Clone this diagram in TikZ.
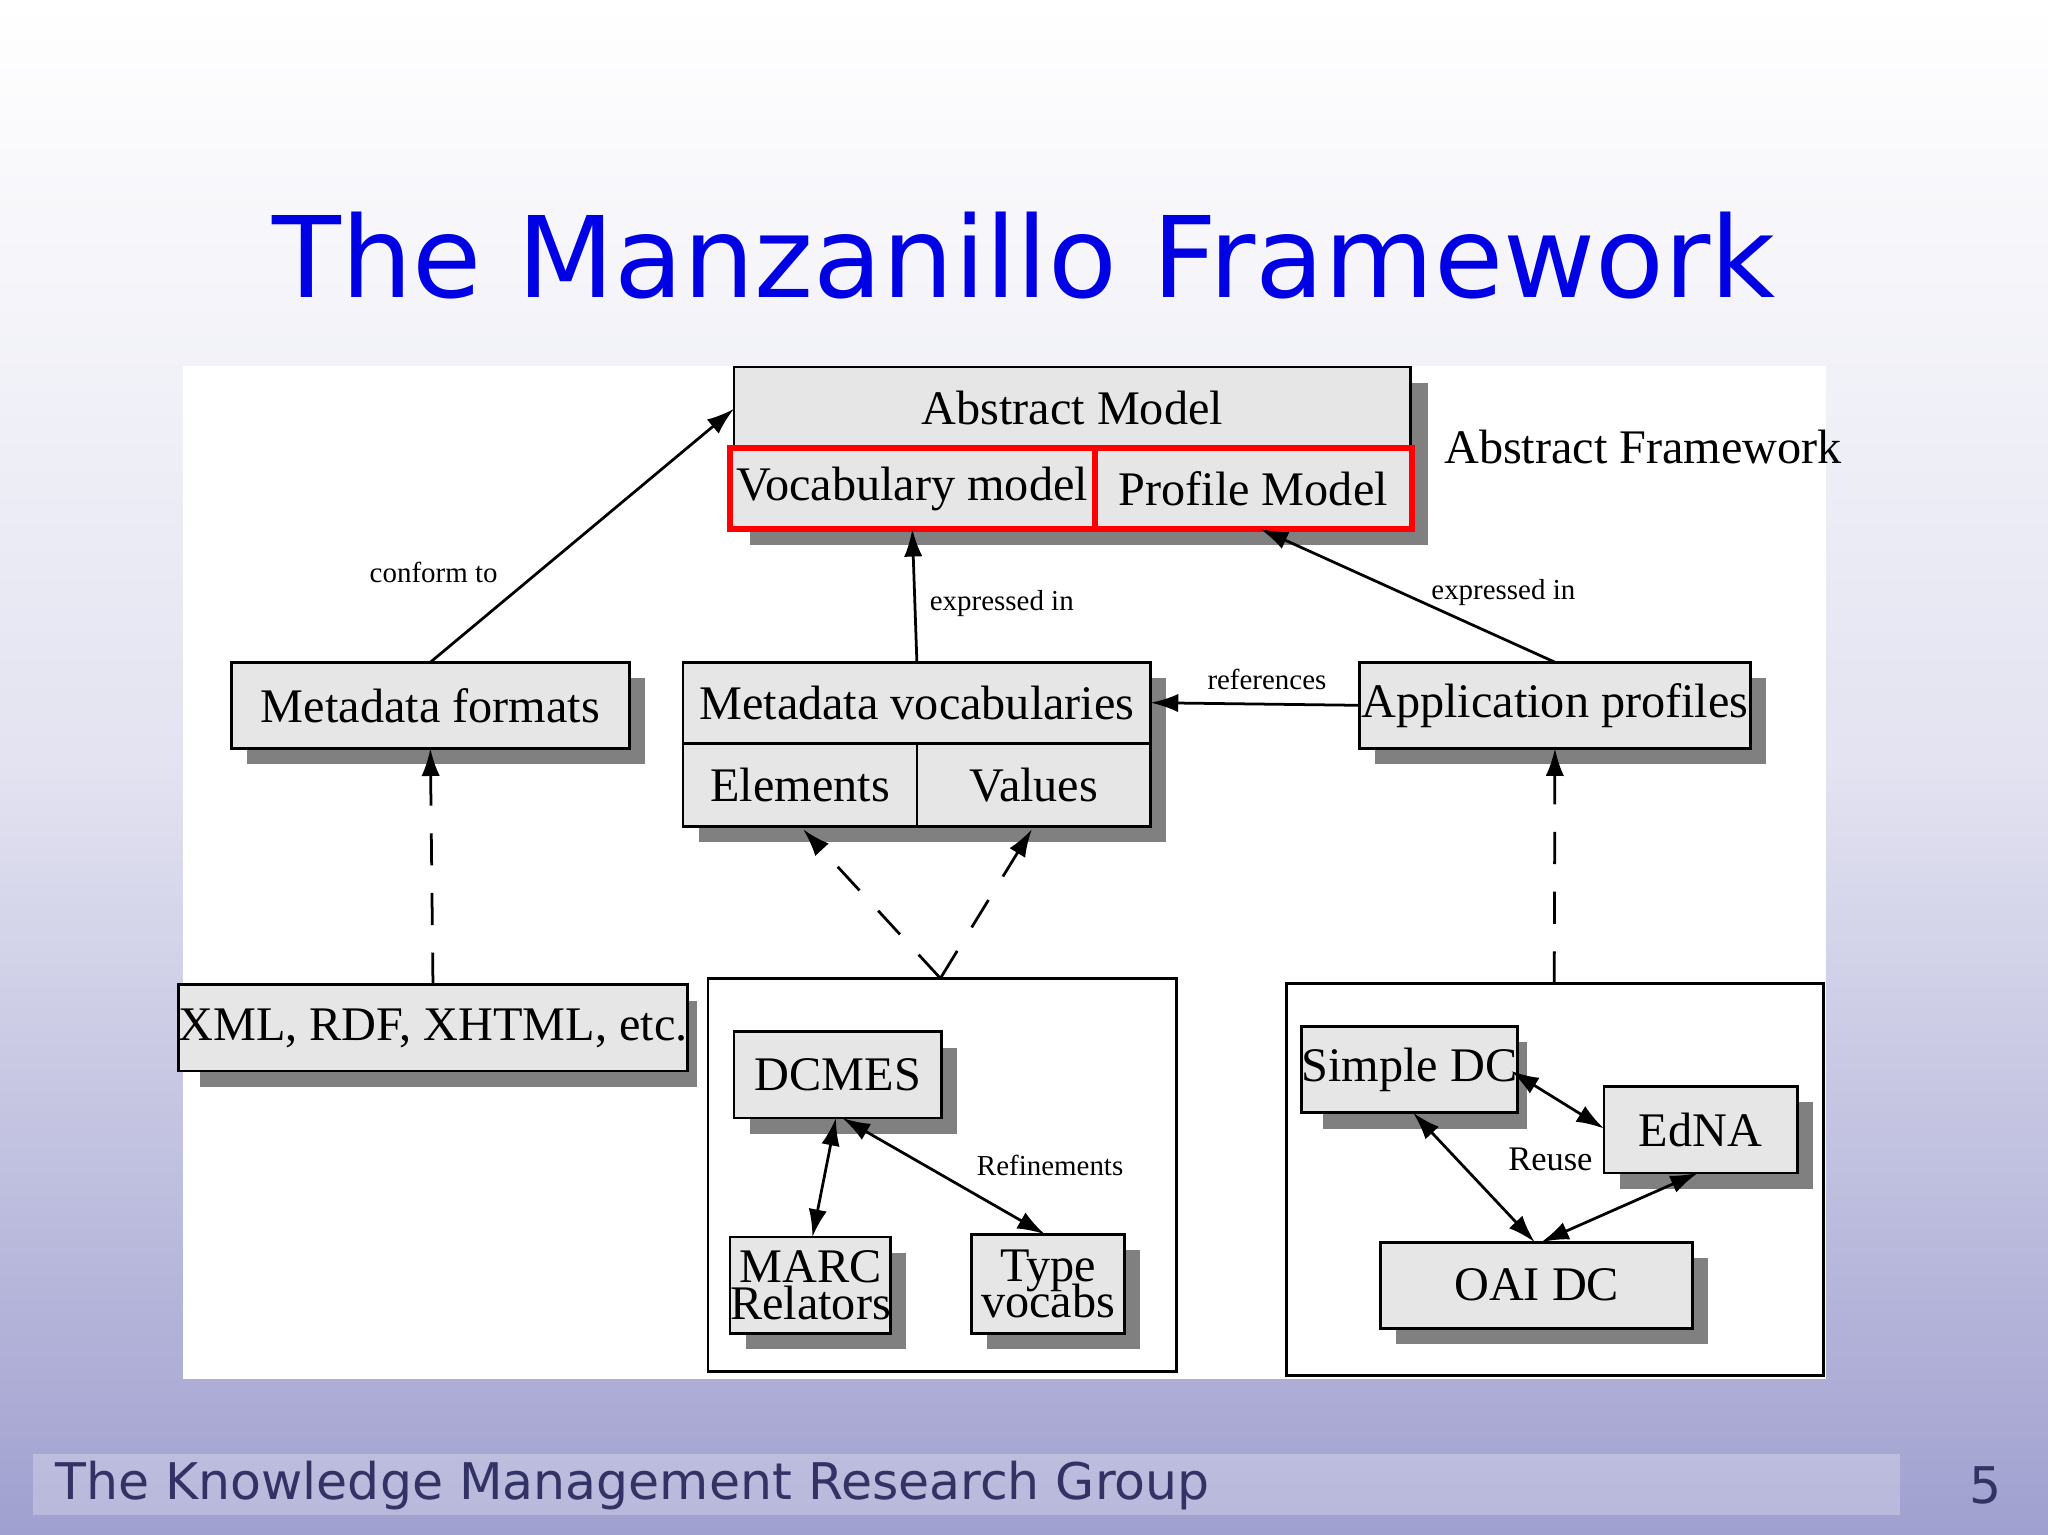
\documentclass[tikz,border=0pt]{standalone}
\usepackage{fontspec}
\setmainfont{Liberation Serif}
\newfontfamily\titlefont{DejaVu Sans}
\usetikzlibrary{arrows.meta}
\definecolor{shadowc}{RGB}{128,128,128}
\definecolor{boxfill}{RGB}{230,230,230}
\definecolor{bgbot}{RGB}{160,160,208}
\definecolor{footc}{RGB}{50,50,100}
\tikzset{
  boxn/.style={draw=black,fill=boxfill,line width=0.6pt,inner sep=0pt,outer sep=0pt,font=\fontsize{10.5}{11}\selectfont,align=center},
  redb/.style={draw=red,line width=1.3pt},
  lbl/.style={font=\fontsize{6.3}{7}\selectfont,inner sep=1pt},
  arr/.style={-{Latex[length=6pt,width=4pt]},line width=0.6pt},
  darr/.style={{Latex[length=6pt,width=4pt]}-{Latex[length=6pt,width=4pt]},line width=0.6pt},
  dasharr/.style={dash pattern=on 7pt off 6pt,-{Latex[length=6pt,width=4pt]},line width=0.6pt}
}
\newcommand\mybox[7][]{%
  \fill[shadowc] ({#3+12},{#4+12}) rectangle ({#5+12},{#6+12});
  \node[boxn,#1,minimum width={(#5-#3)*0.01cm},minimum height={(#6-#4)*0.01cm}] (#2) at ({(#3+#5)/2},{(#4+#6)/2}) {#7};}
\begin{document}
\begin{tikzpicture}[x=0.01cm,y=-0.01cm]
\shade[top color=white,bottom color=bgbot,middle color=white!70!bgbot] (0,0) rectangle (1568,1175);
\fill[white,opacity=0.25] (25,1113) rectangle (1455,1160);
\useasboundingbox (0,0) rectangle (1568,1175);
\node[font=\titlefont\fontsize{24.5}{26}\selectfont,text=blue!90!black] (title) at (784,196) {The Manzanillo Framework};
\node[font=\titlefont\fontsize{11}{12}\selectfont,text=footc,anchor=west] (foot) at (30,1137) {The Knowledge Management Research Group};
\node[font=\titlefont\fontsize{11}{12}\selectfont,text=footc] (pg) at (1520,1137) {5};
\fill[white] (140,280) rectangle (1398,1056);
% boxes
\fill[shadowc] (574,293) rectangle (1093,417);
\node[boxn,minimum width={518*0.01cm},minimum height={62*0.01cm}] (am) at (821,312) {Abstract Model};
\node[boxn,redb,minimum width={279*0.01cm},minimum height={62*0.01cm}] (vm) at (698.5,374) {Vocabulary model};
\node[boxn,redb,minimum width={243*0.01cm},minimum height={62*0.01cm}] (pm) at (959.5,374) {Profile Model};
\node[font=\fontsize{10.5}{11}\selectfont] (af) at (1258,342) {Abstract Framework};
\mybox{mf}{177}{507}{482}{573}{Metadata formats}
\fill[shadowc] (535,519) rectangle (893,645);
\node[boxn,minimum width={358*0.01cm},minimum height={62*0.01cm}] (mv) at (702,538) {Metadata vocabularies};
\node[boxn,minimum width={179*0.01cm},minimum height={64*0.01cm}] (el) at (612.5,601) {Elements};
\node[boxn,minimum width={179*0.01cm},minimum height={64*0.01cm}] (va) at (791.5,601) {Values};
\mybox{ap}{1041}{507}{1340}{573}{Application profiles}
\mybox{xml}{141}{754}{522}{820}{XML, RDF, XHTML, etc.}
\draw[line width=0.6pt] (542,749) rectangle (901,1050);
\coordinate (mid) at (720,749);
\coordinate (amin) at (562,313);
\coordinate (pmin) at (965,405);
\mybox{dc}{562}{790}{721}{856}{DCMES}
\mybox{marc}{559}{947}{682}{1021}{MARC\\[-3pt]Relators}
\mybox{type}{744}{945}{861}{1021}{Type\\[-3pt]vocabs}
\draw[line width=0.6pt] (985,753) rectangle (1396,1053);
\mybox{sdc}{1001}{786}{1157}{852}{Simple DC}
\mybox{edna}{1228}{832}{1376}{898}{EdNA}
\mybox{oai}{1057}{951}{1296}{1017}{OAI DC}
% connectors
\draw[arr] (mf.north) -- (amin);
\node[lbl] (l1) at (332,438) {conform to};
\draw[arr] (mv.north) -- (vm.south);
\node[lbl] (l2) at (767,462) {expressed in};
\draw[arr] (ap.north) -- (pmin);
\node[lbl] (l3) at (1151,454) {expressed in};
\draw[arr] (ap.west) -- (mv.east);
\node[lbl] (l4) at (970,520) {references};
\draw[dasharr] (xml.north) -- (mf.south);
\draw[dasharr] (1190,753) -- (ap.south);
\draw[dasharr] (mid) -- (615,635);
\draw[dasharr] (mid) -- (790,635);
\draw[darr] (640,856) -- (622,947);
\draw[darr] (645,856) -- (800,945);
\node[lbl] (ref) at (804,892) {Refinements};
\draw[darr] (1157,820) -- (1228,864);
\draw[darr] (1082,852) -- (1175,951);
\draw[darr] (1300,898) -- (1180,951);
\node[lbl,font=\fontsize{7.5}{8}\selectfont] (reuse) at (1187,888) {Reuse};
\end{tikzpicture}
\end{document}
